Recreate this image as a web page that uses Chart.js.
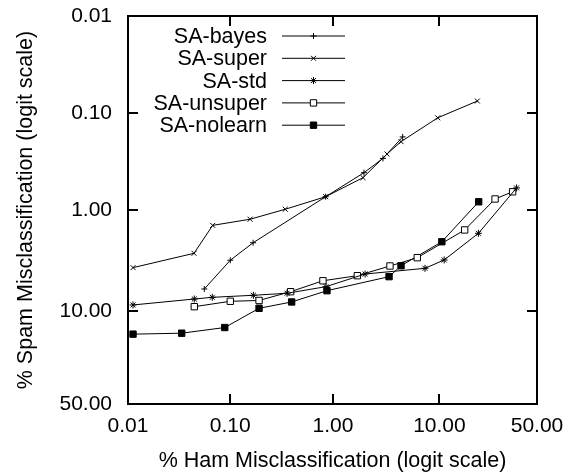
<!DOCTYPE html>
<html><head><meta charset="utf-8">
<script src="https://cdn.jsdelivr.net/npm/chart.js@4/dist/chart.umd.min.js"></script>
<style>html,body{margin:0;padding:0;background:#fff}canvas{display:block}</style>
</head><body><canvas id="c" width="566" height="474"></canvas>
<script>
// ---- data (percent values) ----
const hamTickValues = [0.01, 0.1, 1, 10, 50];
const hamTickLabels = ['0.01', '0.10', '1.00', '10.00', '50.00'];
const spamTickValues = [0.01, 0.1, 1, 10, 50];
const spamTickLabels = ['0.01', '0.10', '1.00', '10.00', '50.00'];
const seriesNames = ['SA-bayes', 'SA-super', 'SA-std', 'SA-unsuper', 'SA-nolearn'];

const bayesHam  = [0.0557, 0.100, 0.167, 0.85, 1.99, 3.02, 4.63];
const bayesSpam = [6.12, 3.19, 2.13, 0.724, 0.411, 0.293, 0.176];
const superHam  = [0.0112, 0.0442, 0.0673, 0.156, 0.344, 0.85, 1.95, 3.30, 4.47, 9.66, 20.7];
const superSpam = [3.78, 2.72, 1.42, 1.23, 0.973, 0.724, 0.462, 0.264, 0.197, 0.112, 0.0752];
const stdHam    = [0.0112, 0.0445, 0.0667, 0.168, 0.358, 0.857, 2.04, 7.43, 11.0, 21.1, 38.7];
const stdSpam   = [8.70, 7.64, 7.36, 7.04, 6.73, 5.81, 4.37, 3.84, 3.17, 1.71, 0.589];
const unsuperHam  = [0.0445, 0.100, 0.191, 0.388, 0.800, 1.72, 3.52, 6.32, 16.4, 28.0, 36.6];
const unsuperSpam = [9.03, 8.03, 7.89, 6.50, 5.09, 4.54, 3.64, 3.01, 1.58, 0.764, 0.645];
const nolearnHam  = [0.0112, 0.0335, 0.0883, 0.191, 0.397, 0.875, 3.45, 4.47, 10.5, 21.2];
const nolearnSpam = [16.0, 15.7, 14.0, 9.35, 8.15, 6.36, 4.64, 3.62, 2.08, 0.816];

// ---- helpers ----
const logit = v => { const p = v / 100; return Math.log(p / (1 - p)); };
const pts = (hx, sy) => hx.map((h, i) => ({ x: logit(h), y: logit(sy[i]) }));
const FONT = '"Liberation Sans", Arial, Helvetica, sans-serif';

const styles = [
  { pointStyle: 'cross',    pointRadius: 3,   bg: '#000' },
  { pointStyle: 'crossRot', pointRadius: 3.5, bg: '#000' },
  { pointStyle: 'star',     pointRadius: 3.5, bg: '#000' },
  { pointStyle: 'rect',     pointRadius: 4.5, bg: '#fff' },
  { pointStyle: 'rect',     pointRadius: 4.5, bg: '#000' }
];
const seriesData = [
  pts(bayesHam, bayesSpam), pts(superHam, superSpam), pts(stdHam, stdSpam),
  pts(unsuperHam, unsuperSpam), pts(nolearnHam, nolearnSpam)
];

const datasets = seriesNames.map((name, i) => ({
  label: name,
  data: seriesData[i],
  showLine: true,
  tension: 0,
  borderColor: '#000',
  borderWidth: 1,
  pointStyle: styles[i].pointStyle,
  pointRadius: styles[i].pointRadius,
  pointBackgroundColor: styles[i].bg,
  pointBorderColor: '#000',
  pointBorderWidth: 1,
  fill: false
}));

// frame + inward ticks on all sides
const framePlugin = {
  id: 'frame',
  afterDatasetsDraw(chart) {
    const { ctx, chartArea: a, scales } = chart;
    ctx.save();
    ctx.strokeStyle = '#000';
    ctx.lineWidth = 2;
    ctx.beginPath();
    scales.x.ticks.forEach(t => {
      const px = Math.round(scales.x.getPixelForValue(t.value));
      ctx.moveTo(px, a.bottom); ctx.lineTo(px, a.bottom - 10);
      ctx.moveTo(px, a.top); ctx.lineTo(px, a.top + 10);
    });
    scales.y.ticks.forEach(t => {
      const py = Math.round(scales.y.getPixelForValue(t.value));
      ctx.moveTo(a.left, py); ctx.lineTo(a.left + 10, py);
      ctx.moveTo(a.right, py); ctx.lineTo(a.right - 10, py);
    });
    ctx.stroke();
    ctx.strokeRect(a.left, a.top, a.right - a.left, a.bottom - a.top);
    ctx.restore();
  }
};

// gnuplot-like key: text right-aligned, then line sample with a point
const keyPlugin = {
  id: 'key',
  afterDatasetsDraw(chart) {
    const { ctx, chartArea: a } = chart;
    ctx.save();
    ctx.font = '21.5px ' + FONT;
    ctx.textAlign = 'right';
    ctx.textBaseline = 'middle';
    chart.data.datasets.forEach((ds, i) => {
      const y = a.top + 20 + i * 22.3;
      const tx = a.left + 139;
      ctx.fillStyle = '#000';
      ctx.fillText(ds.label, tx, y + 1);
      ctx.strokeStyle = '#000';
      ctx.lineWidth = 1;
      ctx.beginPath();
      ctx.moveTo(a.left + 154, y); ctx.lineTo(a.left + 217, y);
      ctx.stroke();
      ctx.fillStyle = ds.pointBackgroundColor;
      ctx.strokeStyle = ds.pointBorderColor;
      Chart.helpers.drawPoint(ctx, { pointStyle: ds.pointStyle, radius: ds.pointRadius, rotation: 0, borderWidth: 1 }, a.left + 185.5, y);
    });
    ctx.restore();
  }
};

const LMIN = logit(0.01), LMAX = logit(50);

new Chart(document.getElementById('c'), {
  type: 'line',
  data: { datasets },
  plugins: [framePlugin, keyPlugin],
  options: {
    responsive: false,
    animation: false,
    devicePixelRatio: 1,
    layout: { padding: { top: 16, right: 29, left: 0, bottom: 0 } },
    plugins: { legend: { display: false }, tooltip: { enabled: false } },
    elements: { line: { tension: 0 } },
    scales: {
      x: {
        type: 'linear', min: LMIN, max: LMAX,
        afterBuildTicks: s => { s.ticks = hamTickValues.map(v => ({ value: logit(v) })); },
        afterFit: s => { s.height = 70; s.paddingLeft = 0; s.paddingRight = 0; },
        grid: { display: false, drawTicks: false },
        border: { display: false },
        ticks: {
          autoSkip: false, maxRotation: 0, padding: 10, color: '#000',
          font: { family: FONT, size: 21 },
          callback: (v, i) => hamTickLabels[i]
        },
        title: {
          display: true, text: '% Ham Misclassification (logit scale)', color: '#000',
          font: { family: FONT, size: 21.5 }, padding: { top: 0, bottom: 0 }
        }
      },
      y: {
        type: 'linear', min: LMIN, max: LMAX, reverse: true,
        afterBuildTicks: s => { s.ticks = spamTickValues.map(v => ({ value: logit(v) })); },
        afterFit: s => { s.width = 128; s.paddingTop = 0; s.paddingBottom = 0; },
        grid: { display: false, drawTicks: false },
        border: { display: false },
        ticks: {
          autoSkip: false, padding: 16, color: '#000',
          font: { family: FONT, size: 21 },
          callback: (v, i) => spamTickLabels[i]
        },
        title: {
          display: true, text: '% Spam Misclassification (logit scale)', color: '#000',
          font: { family: FONT, size: 21.5 }, padding: { top: 13, bottom: 0 }
        }
      }
    }
  }
});
</script>
</body></html>
